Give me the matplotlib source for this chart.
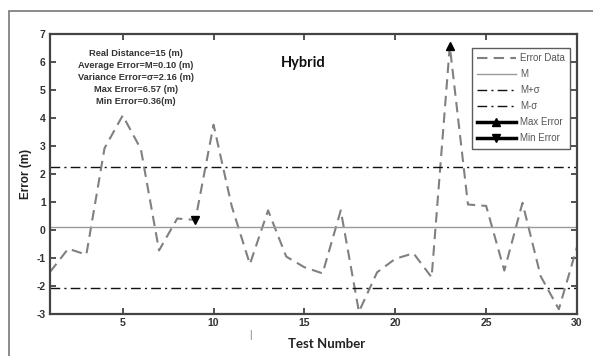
import matplotlib
matplotlib.use("Agg")
import matplotlib.pyplot as plt
from matplotlib.patches import Rectangle

test_number = list(range(1, 31))
error_data = [-1.50, -0.67, -0.88, 2.92, 4.09, 2.89, -0.73, 0.41, 0.36, 3.76,
              0.85, -1.22, 0.70, -0.95, -1.33, -1.55, 0.70, -2.92, -1.51, -1.03,
              -0.83, -1.69, 6.57, 0.91, 0.86, -1.45, 0.97, -1.65, -2.83, -0.61]
mean_err = 0.10
sigma = 2.16
max_idx = 23
max_val = 6.57
min_idx = 9
min_val = 0.36
info_lines = ["Real Distance=15 (m)", "Average Error=M=0.10 (m)",
              "Variance Error=\u03c3=2.16 (m)", "Max Error=6.57 (m)", "Min Error=0.36(m)"]
yticks = list(range(-3, 8))
xticks = [5, 10, 15, 20, 25, 30]

plt.rcParams['font.family'] = ['Liberation Sans', 'DejaVu Sans']
plt.rcParams['axes.unicode_minus'] = False

fig = plt.figure(figsize=(5.93, 3.56), dpi=100)
fig.patch.set_facecolor('white')
# outer frame
fig.add_artist(Rectangle((9/593, -0.1), 1.2, (356-11)/356 + 0.1, transform=fig.transFigure,
                         fill=False, edgecolor='#777777', linewidth=1.2))

ax = fig.add_axes([50/593, 42/356, 527/593, 280/356])
ax.plot(test_number, error_data, linestyle=(0, (5, 3)), color='#808080', lw=1.5, label='Error Data')
ax.axhline(mean_err, color='#999999', lw=1.0, label='M')
ax.axhline(mean_err + sigma, color='#111111', lw=1.0, linestyle=(0, (7, 3, 1.5, 3)), label='M+\u03c3')
ax.axhline(mean_err - sigma, color='#111111', lw=1.0, linestyle=(0, (7, 3, 1.5, 3)), label='M-\u03c3')
ax.plot([max_idx], [max_val], marker='^', color='black', ms=6, lw=2.5, linestyle='-', label='Max Error')
ax.plot([min_idx], [min_val], marker='v', color='black', ms=6, lw=2.5, linestyle='-', label='Min Error')

ax.set_xlim(1, 30)
ax.set_ylim(-3, 7)
ax.set_xticks(xticks)
ax.set_yticks(yticks)
ax.tick_params(direction='in', length=4, width=1.2, top=True, right=True, labelsize=7.5, pad=3, colors='#333333')
for lab in ax.get_xticklabels() + ax.get_yticklabels():
    lab.set_fontweight('bold')
for s in ax.spines.values():
    s.set_color('#444444')
    s.set_linewidth(1.6)

ax.set_xlabel('Test Number', fontsize=9.5, fontweight='bold', family=['Lato', 'DejaVu Sans'], color='#222222')
ax.xaxis.set_label_coords(0.524, -0.085)
ax.set_ylabel('Error (m)', fontsize=8.5, fontweight='bold', color='#222222')
ax.yaxis.set_label_coords(-0.034, 0.5)

ax.text(0.48, 0.895, 'Hybrid', transform=ax.transAxes, fontsize=10.5, fontweight='bold',
        family=['Lato', 'DejaVu Sans'], ha='center', va='center', color='#111111')

for i, t in enumerate(info_lines):
    ax.text((136-50)/527, (314-53.5-12*i)/280, t, transform=ax.transAxes, fontsize=6.7,
            fontweight='bold', ha='center', va='center', color='#333333')

leg = ax.legend(loc='upper right', bbox_to_anchor=((570-50)/527, (314-48)/280), fontsize=7,
                frameon=True, fancybox=False, edgecolor='#333333', handlelength=4.0,
                handletextpad=0.4, labelspacing=0.62, borderpad=0.55, borderaxespad=0)
leg.get_frame().set_linewidth(1.0)
for t in leg.get_texts():
    t.set_color('#555555')

fig.text(250/593, 1 - 335/356, '|', fontsize=7, color='#777777', ha='center', va='center')

fig.savefig('out.png', dpi=100)
